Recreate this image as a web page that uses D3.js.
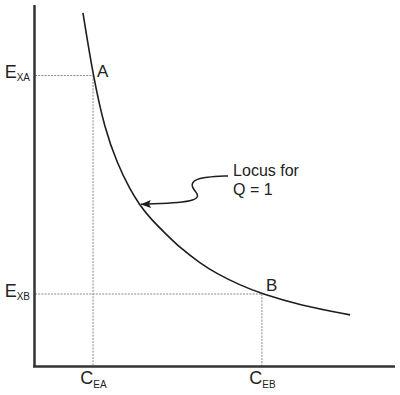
<!DOCTYPE html>
<html><head><meta charset="utf-8">
<script src="https://cdn.jsdelivr.net/npm/d3@7"></script>
<style>
html,body{margin:0;padding:0;background:#fff;}
svg{display:block;}
text{font-family:"Liberation Sans",Arial,Helvetica,sans-serif;fill:#222;}
</style></head>
<body>
<svg id="chart" width="400" height="395"></svg>
<script>
// Locus curve (C_E on x, E_X on y), in chart units
const curveX = [1.36, 1.64, 1.97, 2.31, 2.67, 2.94, 3.22, 3.64, 4.06, 4.61, 5.08, 5.72, 6.33, 7.39, 8.78];
const curveY = [9.81, 8.07, 6.56, 5.64, 4.89, 4.47, 4.11, 3.69, 3.28, 2.86, 2.56, 2.25, 2.00, 1.69, 1.42];
// Marked points
const pointNames = ["A", "B"];
const pointX = [1.64, 6.33];
const pointY = [8.07, 2.00];
// Axis labels (main letter + subscript)
const yTickMain = ["E", "E"];
const yTickSub = ["XA", "XB"];
const xTickMain = ["C", "C"];
const xTickSub = ["EA", "EB"];
// Annotation
const noteLines = ["Locus for", "Q = 1"];
const noteX = 5.53;
const noteY = [5.28, 4.75];
const arrowX = [5.39, 4.78, 4.44, 4.36, 4.50, 4.58, 4.44, 4.06, 3.22, 2.97];
const arrowY = [5.28, 5.25, 5.17, 5.0, 4.83, 4.72, 4.60, 4.54, 4.50, 4.49];

const svg = d3.select("#chart");
const x = d3.scaleLinear().domain([0, 10]).range([34, 394]);
const y = d3.scaleLinear().domain([0, 10]).range([366, 6]);

// guide (dashed) lines
const g = svg.append("g");
pointNames.forEach((n, i) => {
  g.append("line")
    .attr("x1", x(0) + 1).attr("x2", x(pointX[i]))
    .attr("y1", y(pointY[i])).attr("y2", y(pointY[i]))
    .attr("stroke", "#8a8a8a").attr("stroke-width", 1).attr("stroke-dasharray", "2,1.2");
  g.append("line")
    .attr("x1", x(pointX[i])).attr("x2", x(pointX[i]))
    .attr("y1", y(pointY[i])).attr("y2", y(0))
    .attr("stroke", "#8a8a8a").attr("stroke-width", 1).attr("stroke-dasharray", "2,1.2");
});

// axes
const yAxis = d3.axisLeft(y).tickValues(pointY).tickSize(0).tickSizeOuter(0).tickPadding(4).tickFormat("");
const xAxis = d3.axisBottom(x).tickValues(pointX).tickSize(0).tickSizeOuter(0).tickPadding(5).tickFormat("");

const gy = svg.append("g").attr("transform", `translate(${x(0)},0)`).call(yAxis);
const gx = svg.append("g").attr("transform", `translate(0,${y(0)})`).call(xAxis);
[gy, gx].forEach(a => {
  a.select(".domain").attr("stroke", "#333").attr("stroke-width", 2.5);
});
gy.select(".domain").attr("d", `M0.5,${y(10) - 1}V${y(0) + 1}`);
gx.select(".domain").attr("d", `M${x(0) - 1},0.5H395`);

gy.selectAll(".tick text").each(function(d, i) {
  const t = d3.select(this).text("").attr("dy", "2.5").attr("font-size", 18).attr("text-anchor", "end");
  t.append("tspan").text(yTickMain[i]);
  t.append("tspan").attr("font-size", 10).attr("dy", 3).text(yTickSub[i]);
});
gx.selectAll(".tick text").each(function(d, i) {
  const t = d3.select(this).text("").attr("dy", "0.71em").attr("font-size", 18).attr("text-anchor", "middle");
  t.append("tspan").text(xTickMain[i]);
  t.append("tspan").attr("font-size", 10).attr("dy", 4).text(xTickSub[i]);
});

// locus curve
const pts = curveX.map((v, i) => [v, curveY[i]]);
svg.append("path")
  .attr("d", d3.line().x(d => x(d[0])).y(d => y(d[1])).curve(d3.curveBasis)(pts))
  .attr("fill", "none").attr("stroke", "#1e1e1e").attr("stroke-width", 1.6);

// point labels
svg.selectAll("text.pt").data(pointNames).join("text")
  .attr("class", "pt")
  .attr("x", (d, i) => x(pointX[i]) + 4)
  .attr("y", (d, i) => y(pointY[i]) + (i === 0 ? 2 : -3))
  .attr("font-size", 17)
  .text(d => d);

// annotation
svg.selectAll("text.note").data(noteLines).join("text")
  .attr("class", "note")
  .attr("x", x(noteX))
  .attr("y", (d, i) => y(noteY[i]))
  .attr("font-size", 16)
  .text(d => d);

const defs = svg.append("defs");
defs.append("marker").attr("id", "ah")
  .attr("viewBox", "0 0 10 8").attr("refX", 10).attr("refY", 4)
  .attr("markerWidth", 10).attr("markerHeight", 8).attr("markerUnits", "userSpaceOnUse")
  .attr("orient", "auto")
  .append("path").attr("d", "M0,0L10,4L0,8L2,4Z").attr("fill", "#1e1e1e");

const apts = arrowX.map((v, i) => [v, arrowY[i]]);
svg.append("path")
  .attr("d", d3.line().x(d => x(d[0])).y(d => y(d[1])).curve(d3.curveBasis)(apts))
  .attr("fill", "none").attr("stroke", "#1e1e1e").attr("stroke-width", 1.5)
  .attr("marker-end", "url(#ah)");
</script>
</body></html>
